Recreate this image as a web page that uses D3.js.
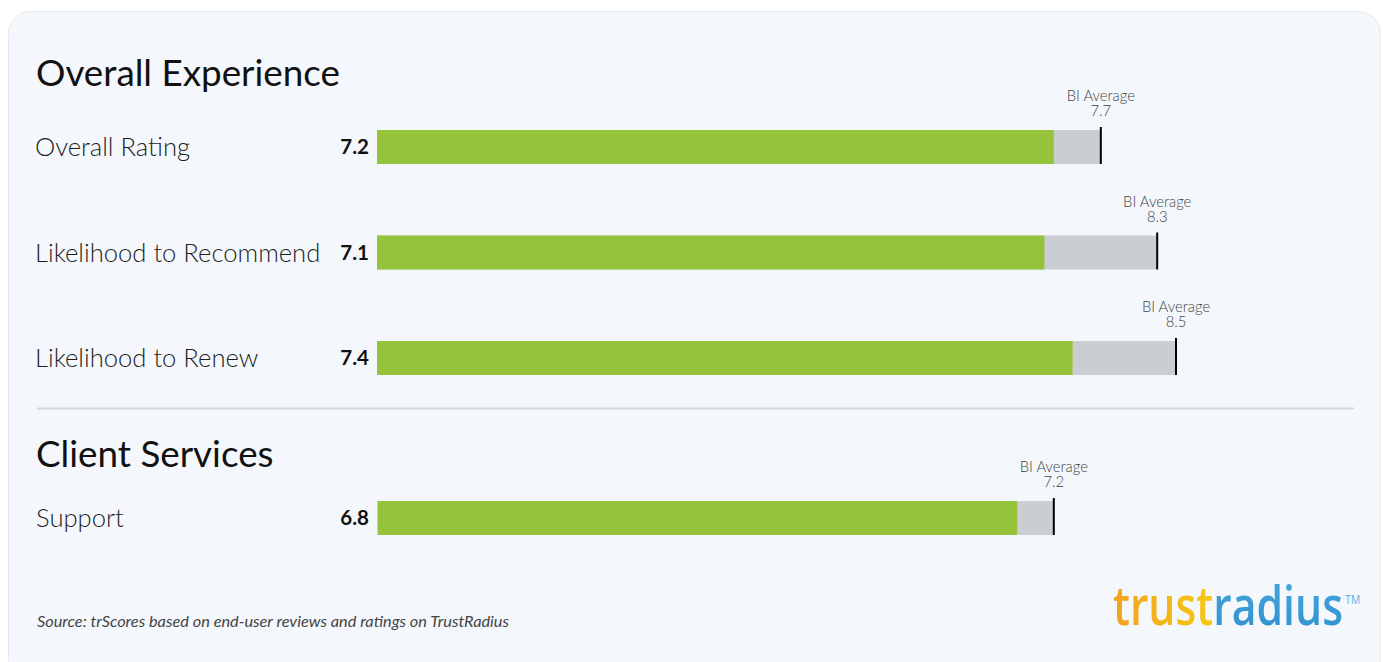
<!DOCTYPE html>
<html><head><meta charset="utf-8">
<script src="https://cdn.jsdelivr.net/npm/d3@7"></script>
<style>
html,body{margin:0;padding:0;background:#fff;}
svg{display:block;}
</style></head>
<body>
<svg id="c" width="1383" height="662"></svg>
<script>
const sections = ["Overall Experience", "Client Services"];
const categories = ["Overall Rating", "Likelihood to Recommend", "Likelihood to Renew", "Support"];
const categorySection = [0, 0, 0, 1];
const scores = [7.2, 7.1, 7.4, 6.8];
const biAverages = [7.7, 8.3, 8.5, 7.2];
const avgLabel = "BI Average";
const sourceText = "Source: trScores based on end-user reviews and ratings on TrustRadius";

const svg = d3.select("#c");
const font = "Lato, 'Open Sans', sans-serif";

const defs = svg.append("defs");
const g1 = defs.append("linearGradient").attr("id","gTrust").attr("x1","0").attr("x2","1").attr("y1","0").attr("y2","0");
g1.append("stop").attr("offset","0").attr("stop-color","#f2a21f");
g1.append("stop").attr("offset","0.5").attr("stop-color","#f7d10f");
g1.append("stop").attr("offset","1").attr("stop-color","#f4b11b");
const g2 = defs.append("linearGradient").attr("id","gRad").attr("x1","0").attr("x2","0").attr("y1","0").attr("y2","1");
g2.append("stop").attr("offset","0").attr("stop-color","#4aa9dd");
g2.append("stop").attr("offset","1").attr("stop-color","#2e8fd0");

// panel
svg.append("rect").attr("x",8.5).attr("y",11.5).attr("width",1372).attr("height",670)
  .attr("rx",22).attr("fill","#f4f8fc").attr("stroke","#e6eaee").attr("stroke-width",1);

const x = d3.scaleLinear().domain([0,10]).range([377,1317]);
const barH = 34;
const rowY = d3.scaleLinear().domain([0,1]).range([130,235.5]);
const rowTop = (i) => categorySection[i] === 0 ? rowY(i) : 501;
const sectionTitleY = [86, 467];

svg.selectAll("text.sec").data(sections).join("text").attr("class","sec")
  .attr("x",36).attr("y",(d,i)=>sectionTitleY[i])
  .attr("font-family",font).attr("font-size",36.8).attr("fill","#111").text(d=>d);

svg.append("line").attr("x1",37).attr("x2",1354).attr("y1",408.5).attr("y2",408.5)
  .attr("stroke","#d3d8dd").attr("stroke-width",2);

const rows = categories.map((c,i)=>({c, s:scores[i], a:biAverages[i], i}));
const rg = svg.selectAll("g.row").data(rows).join("g").attr("class","row")
  .attr("transform",d=>`translate(0,${rowTop(d.i)})`);

rg.append("text").attr("x",d=>d.i===3?36:35).attr("y",barH/2+9)
  .attr("font-family",font).attr("font-weight",300).attr("font-size",25.6).attr("fill","#1e1e1e")
  .text(d=>d.c);
rg.append("text").attr("x",d=>x(0)-8).attr("y",barH/2+7)
  .attr("text-anchor","end").attr("font-family",font).attr("font-weight",700)
  .attr("font-size",20.5).attr("fill","#111").text(d=>d.s.toFixed(1));
rg.append("rect").attr("x",x(0)).attr("y",0).attr("height",barH)
  .attr("width",d=>x(d.a)-x(0)).attr("fill","#caced2");
rg.append("rect").attr("x",d=>d.i===3?x(0)+1:x(0)).attr("y",0).attr("height",barH)
  .attr("width",d=>x(d.s)-x(0)).attr("fill","#95c43c");
rg.append("line").attr("x1",d=>x(d.a)).attr("x2",d=>x(d.a)).attr("y1",-3).attr("y2",barH)
  .attr("stroke","#000").attr("stroke-width",2);
const avgT = rg.append("text").attr("text-anchor","middle")
  .attr("font-family",font).attr("font-weight",300).attr("font-size",14.8).attr("fill","#444");
avgT.append("tspan").attr("x",d=>x(d.a)).attr("y",-29).text(avgLabel);
avgT.append("tspan").attr("x",d=>x(d.a)).attr("y",-14).text(d=>d.a.toFixed(1));

svg.append("text").attr("x",37).attr("y",627).attr("font-family",font).attr("font-style","italic")
  .attr("font-size",16).attr("fill","#444").attr("textLength",472).attr("lengthAdjust","spacingAndGlyphs")
  .text(sourceText);

// logo
const logoG = svg.append("g");
const logo = logoG.append("text").attr("x",0).attr("y",0)
  .attr("font-family","'Open Sans', sans-serif").attr("font-weight",600).attr("font-size",54);
logo.append("tspan").attr("fill","url(#gTrust)").text("trust");
logo.append("tspan").attr("fill","url(#gRad)").text("radius");
logo.append("tspan").attr("fill","#6aaedb").attr("font-weight",400).attr("font-size",13)
  .attr("dx",3).attr("dy",-21).text("TM");
let wordLen = 230;
try { wordLen = logo.node().getSubStringLength(0, 11); } catch(e) {}
const sx = 230 / wordLen;
logoG.attr("transform",`translate(1113,625) scale(${sx},1)`);
</script>
</body></html>
